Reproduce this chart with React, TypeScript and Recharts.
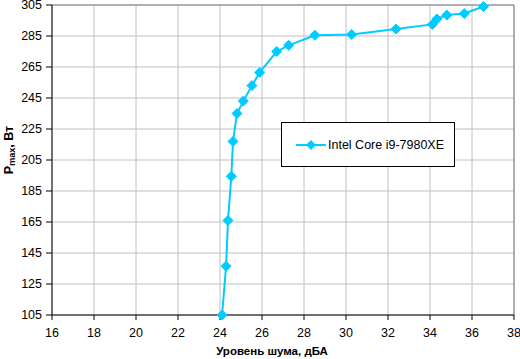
import React from 'react';
import { LineChart, Line, XAxis, YAxis, CartesianGrid, ReferenceLine, Legend } from 'recharts';

const noiseDb = [24.1, 24.29, 24.38, 24.54, 24.62, 24.81, 25.11, 25.52, 25.89, 26.7, 27.27, 28.52, 30.27, 32.38, 34.11, 34.33, 34.8, 35.63, 36.55];
const powerW = [105, 136.5, 166, 194.5, 217, 235, 243, 253, 261.5, 275, 279, 285.5, 286, 289.5, 292.5, 296, 298.5, 299.5, 304];
const xTicks = [16, 18, 20, 22, 24, 26, 28, 30, 32, 34, 36, 38];
const yTicks = [105, 125, 145, 165, 185, 205, 225, 245, 265, 285, 305];
const seriesName = 'Intel Core i9-7980XE';
const xTitle = 'Уровень шума, дБА';

const data = noiseDb.map((x, i) => ({ x, y: powerW[i] }));

const COLOR = '#00CCFF';
const FONT = '"Liberation Sans", Arial, sans-serif';

const Diamond = (props: any) => {
  const { cx, cy } = props;
  if (cx == null || cy == null) return null;
  const r = 5;
  return (
    <polygon
      points={`${cx},${cy - r} ${cx + r},${cy} ${cx},${cy + r} ${cx - r},${cy}`}
      fill={COLOR}
      stroke={COLOR}
      strokeWidth={1}
    />
  );
};

const LegendBox = () => (
  <div
    style={{
      width: 174,
      height: 45,
      boxSizing: 'border-box',
      border: '1px solid #000',
      background: '#fff',
      display: 'flex',
      alignItems: 'center',
      fontFamily: FONT,
      fontSize: 12.5,
      color: '#000',
    }}
  >
    <svg width={30} height={12} style={{ marginLeft: 14, marginRight: 2 }}>
      <line x1={0} y1={6} x2={30} y2={6} stroke={COLOR} strokeWidth={2} />
      <polygon points="15,1 20,6 15,11 10,6" fill={COLOR} />
    </svg>
    <span>{seriesName}</span>
  </div>
);

const YTitle = () => (
  <text
    x={13}
    y={150}
    transform="rotate(-90, 13, 150)"
    textAnchor="middle"
    fontFamily={FONT}
    fontWeight="bold"
    fontSize={12.5}
    fill="#000"
  >
    P<tspan fontSize={9} dy={2}>max</tspan>
    <tspan dy={-2}>, Вт</tspan>
  </text>
);

const XTitle = () => (
  <text
    x={272}
    y={355}
    textAnchor="middle"
    fontFamily={FONT}
    fontWeight="bold"
    fontSize={11.5}
    fill="#000"
  >
    {xTitle}
  </text>
);

export default function App() {
  return (
    <div style={{ position: 'absolute', left: 0, top: 0, width: 520, height: 359, background: '#fff' }}>
      <LineChart width={520} height={359} data={data} margin={{ top: 5, right: 6, left: 0, bottom: 0 }}>
        <CartesianGrid stroke="#c0c0c0" strokeWidth={1} />
        <XAxis
          dataKey="x"
          type="number"
          domain={[16, 38]}
          ticks={xTicks}
          interval={0}
          height={44}
          stroke="#000"
          tickSize={5}
          tickMargin={8}
          tick={{ fill: '#000', fontSize: 12.5, fontFamily: FONT }}
          label={<XTitle />}
        />
        <YAxis
          dataKey="y"
          type="number"
          domain={[105, 305]}
          ticks={yTicks}
          interval={0}
          width={52}
          stroke="#000"
          tickSize={6}
          tickMargin={4}
          tick={{ fill: '#000', fontSize: 12.5, fontFamily: FONT }}
          label={<YTitle />}
        />
        <ReferenceLine y={305} stroke="#808080" strokeWidth={1} ifOverflow="extendDomain" />
        <ReferenceLine x={38} stroke="#808080" strokeWidth={1} ifOverflow="extendDomain" />
        <Legend
          layout="horizontal"
          align="center"
          verticalAlign="middle"
          content={() => <LegendBox />}
          wrapperStyle={{ position: 'absolute', left: 281, top: 122, width: 174, height: 45 }}
        />
        <Line
          type="linear"
          dataKey="y"
          name={seriesName}
          stroke={COLOR}
          strokeWidth={2}
          dot={<Diamond />}
          activeDot={false}
          isAnimationActive={false}
        />
      </LineChart>
    </div>
  );
}
